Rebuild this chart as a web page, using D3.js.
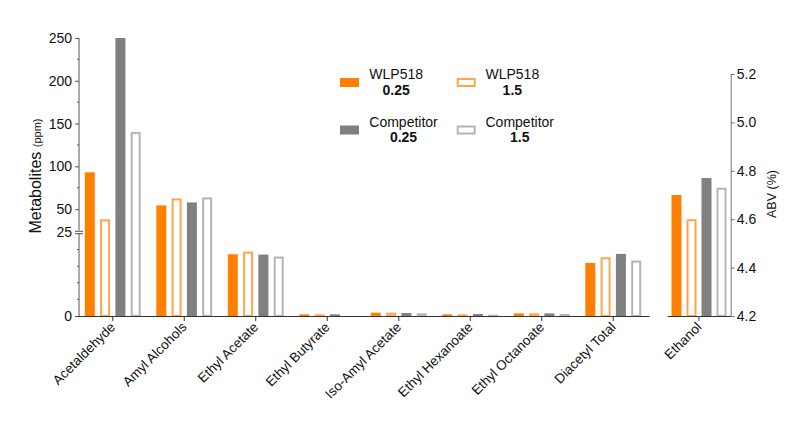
<!DOCTYPE html>
<html>
<head>
<meta charset="utf-8">
<script src="https://cdn.jsdelivr.net/npm/d3@7"></script>
<style>
  body { margin: 0; background: #fff; }
  text { font-family: "Liberation Sans", Arial, sans-serif; fill: #111; }
</style>
</head>
<body>
<script>
const categories = ['Acetaldehyde', 'Amyl Alcohols', 'Ethyl Acetate', 'Ethyl Butyrate',
  'Iso-Amyl Acetate', 'Ethyl Hexanoate', 'Ethyl Octanoate', 'Diacetyl Total'];
const seriesKeys = ['wlp025', 'wlp15', 'comp025', 'comp15'];
const seriesNames = [['WLP518', '0.25'], ['WLP518', '1.5'], ['Competitor', '0.25'], ['Competitor', '1.5']];
const wlp025 = [93, 54.3, 18.6, 0.5, 1.0, 0.5, 0.8, 16.0];
const wlp15 = [38, 62.5, 19.4, 0.5, 1.0, 0.5, 0.8, 17.7];
const comp025 = [250, 57.8, 18.5, 0.5, 0.9, 0.6, 0.8, 18.7];
const comp15 = [140, 63.7, 17.9, 0, 0.8, 0.4, 0.6, 16.7];
const ethanol = [4.70, 4.60, 4.77, 4.73];
const upperTicks = [50, 100, 150, 200, 250];
const upperMinor = [75, 125, 175, 225];
const lowerMinor = [5, 10, 15, 20];
const abvTicks = [4.2, 4.4, 4.6, 4.8, 5.0, 5.2];

const values = { wlp025, wlp15, comp025, comp15 };
const fills = { wlp025: '#ff8000', wlp15: 'none', comp025: '#808080', comp15: 'none' };
const strokes = { wlp025: 'none', wlp15: '#ffa64d', comp025: 'none', comp15: '#b4b4b4' };

const width = 800, height = 431;
const svg = d3.select('body').append('svg')
  .attr('width', width).attr('height', height);

const base = 316;
const yLow = d3.scaleLinear().domain([0, 25]).range([base, 233]);
const yHigh = d3.scaleLinear().domain([25, 250]).range([230.5, 38]);
const yVal = v => v <= 25 ? yLow(v) : yHigh(v);

const x0 = d3.scaleBand().domain(categories).range([77, 649]);
const x1 = d3.scaleBand().domain(seriesKeys).range([-30.6, 30.6])
  .paddingInner(0.346).paddingOuter(0.173);

const xE = d3.scaleBand().domain(['Ethanol']).range([667, 731]);
const yE = d3.scaleLinear().domain([4.2, 5.2]).range([base, 74]);

function drawBar(g, key, x, y0, y1) {
  const w = x1.bandwidth();
  const h = y0 - y1;
  if (fills[key] !== 'none') {
    g.append('rect').attr('x', x).attr('y', y1).attr('width', w).attr('height', h)
      .attr('fill', fills[key]);
  } else if (h > 0) {
    g.append('rect').attr('x', x + 1).attr('y', y1 + 1).attr('width', w - 2)
      .attr('height', Math.max(h - 1, 0.5))
      .attr('fill', 'none').attr('stroke', strokes[key]).attr('stroke-width', 2);
  }
}

// main bars
const bars = svg.append('g');
categories.forEach((c, i) => {
  const cx = x0(c) + x0.bandwidth() / 2;
  seriesKeys.forEach(k => {
    drawBar(bars, k, cx + x1(k), base, yVal(values[k][i]));
  });
});

// ethanol bars
const ecx = xE('Ethanol') + xE.bandwidth() / 2;
seriesKeys.forEach((k, i) => {
  drawBar(bars, k, ecx + x1(k) - 0.5 * (i - 1.5) * 0.6, base, yE(ethanol[i]));
});

// left axis (broken)
const axisColor = '#555';
const ax = 79;
const upper = svg.append('g').attr('transform', `translate(${ax},0)`)
  .call(d3.axisLeft(yHigh).tickValues(upperTicks).tickSize(4).tickPadding(3).tickSizeOuter(0));
upper.select('.domain').attr('d', `M0,${yHigh(250)}V${yHigh(25)}`);
upper.append('g').selectAll('line').data(upperMinor).join('line')
  .attr('x1', -2).attr('x2', 0).attr('y1', d => yHigh(d)).attr('y2', d => yHigh(d));

const lower = svg.append('g').attr('transform', `translate(${ax},0)`)
  .call(d3.axisLeft(yLow).tickValues([0]).tickSize(4).tickPadding(3).tickSizeOuter(0));
lower.select('.domain').attr('d', `M0,${yLow(25)}V${yLow(0)}`);
lower.append('g').selectAll('line').data(lowerMinor).join('line')
  .attr('x1', -2).attr('x2', 0).attr('y1', d => yLow(d)).attr('y2', d => yLow(d));

// break marks
const brk = svg.append('g');
[yHigh(25) + 0.8, yLow(25) + 0.7].forEach(y => {
  brk.append('line').attr('x1', ax - 4).attr('x2', ax + 4).attr('y1', y).attr('y2', y);
});
brk.append('text').attr('x', ax - 7).attr('y', 232.5).attr('dy', '0.35em')
  .attr('text-anchor', 'end').style('font-size', '14px').text('25');

[upper, lower].forEach(g => {
  g.selectAll('.tick text').style('font-size', '14px').attr('fill', '#111');
  g.selectAll('line, path').attr('stroke', axisColor);
  g.attr('font-family', null);
});
brk.selectAll('line').attr('stroke', axisColor);

// x axes
const xAxisColor = '#333';
function styleX(g) {
  g.selectAll('line, path').attr('stroke', xAxisColor);
  g.attr('font-family', null);
  g.selectAll('.tick text')
    .style('font-size', '13.5px').attr('fill', '#111')
    .attr('text-anchor', 'end')
    .attr('transform', 'rotate(-45)')
    .attr('x', -6).attr('y', 6).attr('dy', '0.35em');
}
const xa = svg.append('g').attr('transform', `translate(0,${base})`)
  .call(d3.axisBottom(x0).tickSize(5).tickSizeOuter(0));
styleX(xa);
const xe = svg.append('g').attr('transform', `translate(0,${base})`)
  .call(d3.axisBottom(xE).tickSize(5).tickSizeOuter(0));
styleX(xe);

// right axis
const ra = svg.append('g').attr('transform', 'translate(730.7,0)')
  .call(d3.axisRight(yE).tickValues(abvTicks).tickFormat(d3.format('.1f'))
    .tickSize(4).tickPadding(2).tickSizeOuter(0));
ra.attr('font-family', null);
ra.selectAll('line, path').attr('stroke', '#777');
ra.selectAll('.tick text').style('font-size', '14px').attr('fill', '#111');

// axis titles
svg.append('text')
  .attr('transform', 'translate(41,176) rotate(-90)')
  .attr('text-anchor', 'middle')
  .style('font-size', '16px')
  .call(t => {
    t.append('tspan').text('Metabolites ');
    t.append('tspan').style('font-size', '11px').text('(ppm)');
  });
svg.append('text')
  .attr('transform', 'translate(776,194) rotate(-90)')
  .attr('text-anchor', 'middle')
  .style('font-size', '12.5px')
  .text('ABV (%)');

// legend
const legendCols = [{ sw: 340, tx: 369.3 }, { sw: 456.7, tx: 485.5 }];
const legendRows = [{ sw: 78, b1: 78.5, b2: 94.5 }, { sw: 125.5, b1: 126.5, b2: 142 }];
const legend = svg.append('g');
seriesKeys.forEach((k, i) => {
  const col = legendCols[i % 2], row = legendRows[Math.floor(i / 2)];
  if (fills[k] !== 'none') {
    legend.append('rect').attr('x', col.sw).attr('y', row.sw).attr('width', 19).attr('height', 9)
      .attr('fill', fills[k]);
  } else {
    legend.append('rect').attr('x', col.sw + 1).attr('y', row.sw + 1).attr('width', 17).attr('height', 7)
      .attr('fill', 'none').attr('stroke', strokes[k]).attr('stroke-width', 2);
  }
  const t1 = legend.append('text').attr('y', row.b1).style('font-size', '14px').text(seriesNames[i][0]);
  const t2 = legend.append('text').attr('y', row.b2).style('font-size', '14px')
    .style('font-weight', 'bold').text(seriesNames[i][1]);
  const w = Math.max(t1.node().getComputedTextLength(), t2.node().getComputedTextLength());
  [t1, t2].forEach(t => t.attr('x', col.tx + w / 2).attr('text-anchor', 'middle'));
});
</script>
</body>
</html>
